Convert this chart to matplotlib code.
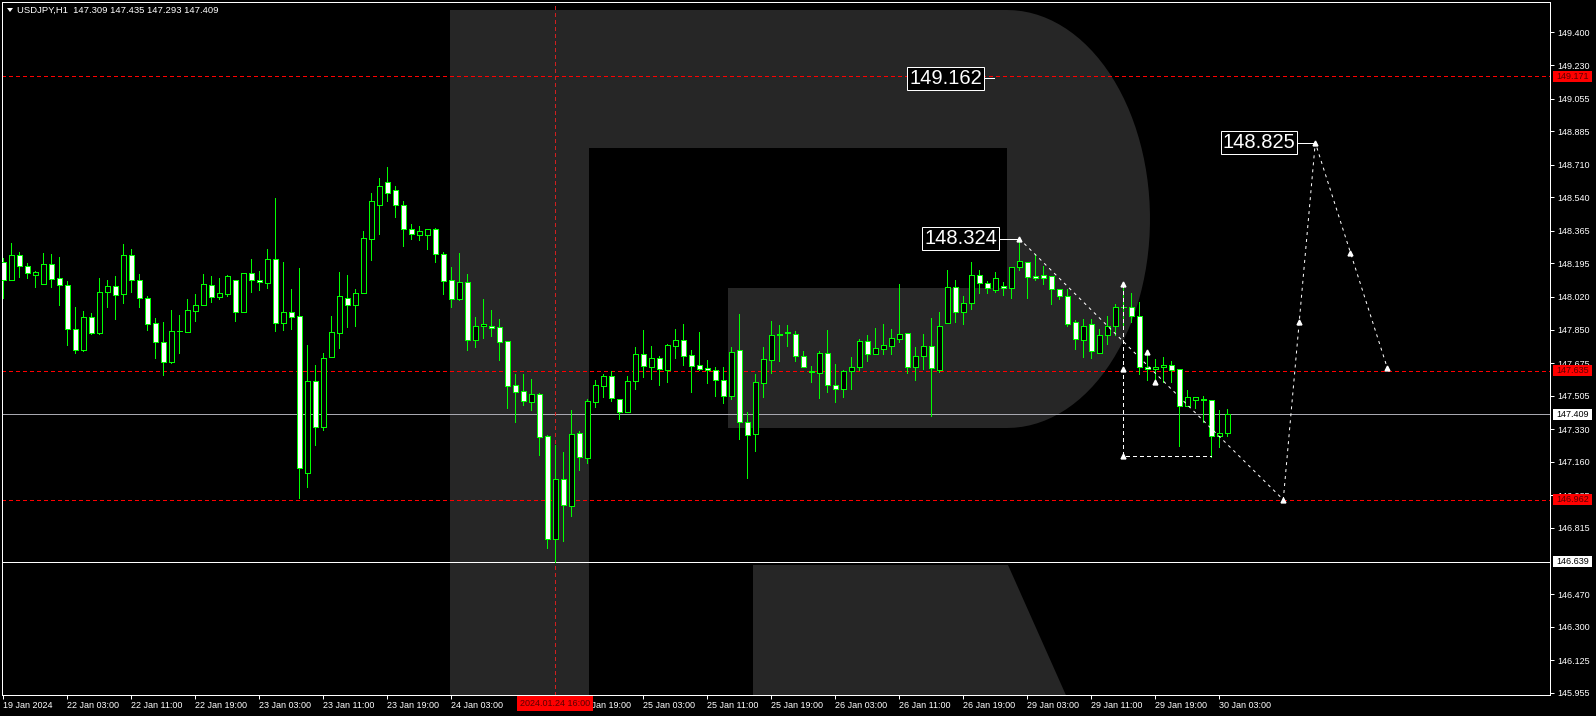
import numpy as np
import matplotlib
matplotlib.use("Agg")
import matplotlib.pyplot as plt
from matplotlib.patches import Rectangle, Polygon
from matplotlib.transforms import Affine2D, blended_transform_factory

# USDJPY H1, one value per bar, 19 Jan 2024 19:00 .. 30 Jan 2024 04:00
opens = [148.200, 148.110, 148.237, 148.184, 148.132, 148.089, 148.190, 148.117, 148.080, 147.851,
         147.741, 147.913, 147.833, 148.044, 148.075, 148.033, 148.237, 148.106, 148.012, 147.882,
         147.783, 147.682, 147.840, 147.838, 147.948, 147.976, 148.080, 148.021, 148.036, 148.111,
         147.943, 148.143, 148.106, 148.094, 148.216, 147.885, 147.939, 147.918, 147.103, 147.579,
         147.339, 147.708, 147.830, 148.017, 147.979, 148.042, 148.323, 148.500, 148.620, 148.580,
         148.500, 148.372, 148.344, 148.344, 148.374, 148.243, 148.106, 148.010, 148.096, 147.797,
         147.870, 147.871, 147.861, 147.788, 147.558, 147.527, 147.473, 147.511, 147.294, 146.758,
         147.068, 146.931, 147.308, 147.181, 147.473, 147.557, 147.605, 147.485, 147.421, 147.584,
         147.720, 147.656, 147.704, 147.640, 147.765, 147.793, 147.715, 147.663, 147.647, 147.637,
         147.589, 147.504, 147.741, 147.368, 147.306, 147.572, 147.692, 147.822, 147.833, 147.829,
         147.714, 147.631, 147.624, 147.725, 147.563, 147.541, 147.634, 147.655, 147.789, 147.723,
         147.749, 147.765, 147.803, 147.830, 147.652, 147.710, 147.762, 147.640, 147.885, 148.070,
         147.939, 147.986, 148.132, 148.091, 148.054, 148.078, 148.065, 148.174, 148.200, 148.127,
         148.132, 148.127, 148.059, 148.023, 147.887, 147.793, 147.877, 147.729, 147.824, 147.866,
         147.965, 147.965, 147.923, 147.656, 147.642, 147.652, 147.663, 147.642, 147.449, 147.480,
         147.490, 147.480, 147.292, 147.309]
highs = [148.221, 148.301, 148.254, 148.198, 148.155, 148.249, 148.244, 148.228, 148.101, 147.965,
         147.946, 147.934, 148.117, 148.106, 148.127, 148.296, 148.270, 148.138, 148.023, 147.908,
         147.887, 147.950, 147.925, 148.009, 148.035, 148.139, 148.129, 148.118, 148.134, 148.111,
         148.143, 148.217, 148.155, 148.270, 148.536, 148.202, 148.061, 148.170, 147.769, 147.664,
         147.727, 147.920, 148.150, 148.134, 148.059, 148.363, 148.560, 148.640, 148.700, 148.600,
         148.520, 148.403, 148.390, 148.374, 148.381, 148.254, 148.176, 148.249, 148.139, 147.915,
         148.009, 147.951, 147.904, 147.788, 147.617, 147.617, 147.591, 147.520, 147.299, 147.247,
         147.210, 147.430, 147.320, 147.487, 147.586, 147.617, 147.633, 147.485, 147.610, 147.758,
         147.847, 147.764, 147.711, 147.772, 147.852, 147.878, 147.743, 147.837, 147.690, 147.652,
         147.654, 147.758, 147.930, 147.419, 147.617, 147.758, 147.894, 147.873, 147.873, 147.841,
         147.737, 147.659, 147.737, 147.847, 147.669, 147.641, 147.708, 147.800, 147.821, 147.857,
         147.878, 147.852, 148.087, 147.830, 147.758, 147.825, 147.910, 147.941, 148.160, 148.108,
         148.024, 148.200, 148.160, 148.101, 148.148, 148.098, 148.174, 148.324, 148.200, 148.244,
         148.181, 148.127, 148.059, 148.063, 147.899, 147.903, 147.903, 147.852, 147.920, 147.981,
         148.085, 148.043, 147.993, 147.717, 147.696, 147.706, 147.685, 147.642, 147.534, 147.496,
         147.503, 147.480, 147.428, 147.435]
lows = [148.016, 148.110, 148.125, 148.120, 148.073, 148.089, 148.073, 147.980, 147.771, 147.725,
        147.736, 147.828, 147.828, 147.969, 147.906, 147.990, 148.047, 147.969, 147.849, 147.703,
        147.611, 147.677, 147.725, 147.838, 147.896, 147.976, 147.993, 148.009, 148.026, 147.896,
        147.943, 148.047, 148.057, 148.068, 147.842, 147.849, 147.852, 146.972, 147.030, 147.249,
        147.327, 147.708, 147.755, 147.864, 147.870, 148.042, 148.212, 148.348, 148.520, 148.438,
        148.287, 148.322, 148.316, 148.270, 148.202, 148.035, 147.967, 148.003, 147.743, 147.758,
        147.805, 147.816, 147.690, 147.440, 147.367, 147.456, 147.430, 147.195, 146.710, 146.639,
        146.748, 146.878, 147.117, 147.153, 147.445, 147.497, 147.478, 147.384, 147.421, 147.539,
        147.602, 147.591, 147.560, 147.576, 147.701, 147.664, 147.524, 147.638, 147.570, 147.503,
        147.466, 147.488, 147.280, 147.075, 147.215, 147.499, 147.624, 147.685, 147.765, 147.687,
        147.655, 147.577, 147.494, 147.525, 147.471, 147.497, 147.541, 147.638, 147.685, 147.723,
        147.723, 147.723, 147.784, 147.625, 147.588, 147.642, 147.400, 147.630, 147.885, 147.891,
        147.877, 147.955, 148.042, 148.038, 148.044, 148.031, 148.016, 148.160, 148.016, 148.108,
        148.085, 147.984, 148.011, 147.868, 147.746, 147.708, 147.703, 147.725, 147.777, 147.824,
        147.873, 147.890, 147.616, 147.586, 147.577, 147.577, 147.577, 147.243, 147.449, 147.438,
        147.369, 147.186, 147.238, 147.293]
closes = [148.110, 148.237, 148.184, 148.143, 148.148, 148.190, 148.115, 148.080, 147.851, 147.741,
          147.913, 147.833, 148.044, 148.075, 148.028, 148.237, 148.106, 148.012, 147.877, 147.783,
          147.678, 147.840, 147.842, 147.950, 147.976, 148.085, 148.021, 148.038, 148.127, 147.943,
          148.143, 148.110, 148.096, 148.216, 147.885, 147.939, 147.917, 147.125, 147.579, 147.339,
          147.704, 147.835, 148.023, 147.976, 148.043, 148.325, 148.520, 148.600, 148.560, 148.500,
          148.372, 148.346, 148.362, 148.374, 148.245, 148.104, 148.010, 148.096, 147.797, 147.871,
          147.877, 147.859, 147.786, 147.557, 147.525, 147.478, 147.511, 147.290, 146.758, 147.068,
          146.936, 147.303, 147.183, 147.475, 147.558, 147.605, 147.494, 147.421, 147.584, 147.720,
          147.661, 147.704, 147.645, 147.767, 147.793, 147.713, 147.661, 147.645, 147.637, 147.588,
          147.504, 147.735, 147.368, 147.302, 147.574, 147.694, 147.824, 147.829, 147.836, 147.713,
          147.655, 147.626, 147.725, 147.561, 147.541, 147.636, 147.657, 147.789, 147.723, 147.751,
          147.767, 147.805, 147.829, 147.652, 147.710, 147.762, 147.647, 147.866, 148.070, 147.939,
          147.986, 148.132, 148.091, 148.065, 148.120, 148.065, 148.174, 148.205, 148.122, 148.117,
          148.117, 148.059, 148.023, 147.880, 147.798, 147.871, 147.736, 147.819, 147.871, 147.965,
          147.966, 147.923, 147.656, 147.642, 147.654, 147.664, 147.640, 147.449, 147.496, 147.496,
          147.480, 147.292, 147.308, 147.409]

symbol = "USDJPY,H1"

time_tick_bars = [0, 8, 16, 24, 32, 40, 48, 56, 72, 80, 88, 96, 104, 112, 120, 128, 136, 144, 152]
time_tick_labels = ["19 Jan 2024", "22 Jan 03:00", "22 Jan 11:00", "22 Jan 19:00", "23 Jan 03:00",
                    "23 Jan 11:00", "23 Jan 19:00", "24 Jan 03:00", "24 Jan 19:00",
                    "25 Jan 03:00", "25 Jan 11:00", "25 Jan 19:00", "26 Jan 03:00", "26 Jan 11:00",
                    "26 Jan 19:00", "29 Jan 03:00", "29 Jan 11:00", "29 Jan 19:00", "30 Jan 03:00"]

price_ticks = [149.400, 149.230, 149.055, 148.885, 148.710, 148.540, 148.365, 148.195, 148.020,
               147.850, 147.675, 147.505, 147.330, 147.160, 146.985, 146.815, 146.470,
               146.300, 146.125, 145.955]

red_levels = [149.171, 147.635, 146.962]
bid_price = closes[-1]
low_line = 146.639
cursor_bar = 69
cursor_label = "2024.01.24 16:00"

# hand drawn forecast
forecast_bars = [127, 160, 164, 173]
forecast_prices = [148.324, 146.962, 148.825, 147.650]
box_bars = [140, 140, 151]
box_prices = [148.085, 147.190, 147.190]
arrow_bars = [127, 160, 164, 173, 162, 168.4, 140, 140, 140, 143, 144]
arrow_prices = [148.324, 146.962, 148.825, 147.650, 147.89, 148.25, 148.085, 147.642, 147.190, 147.734, 147.577]

target_texts = ["149.162", "148.324", "148.825"]
target_prices = [149.162, 148.324, 148.825]
target_box_right = [122.7, 124.6, 161.85]
target_line_end = [123.8, 127, 164]

GREEN = "#00ff00"
RED = "#ff0000"
GREY_LOGO = "#262626"
LW = 0.72  # one pixel

plt.rcParams["font.family"] = ["Liberation Sans", "DejaVu Sans"]

W, H = 1596, 716
fig = plt.figure(figsize=(W / 100, H / 100), dpi=100, facecolor="black")
ax = fig.add_axes([2 / W, 21 / H, 1548 / W, 693 / H])
ax.set_facecolor("black")
ax.set_xlim(-0.16, 193.34)
ax.set_ylim(145.943, 149.559)

# pixel coords with y going down
px = Affine2D().scale(1, -1).translate(0, H)

# watermark "R"
t = np.linspace(-np.pi / 2, np.pi / 2, 60)
arc = list(zip(1007 + 143 * np.cos(t), 219 + 209 * np.sin(t)))
bowl = [(450, 10)] + arc + [(728, 428), (728, 288), (1007, 288), (1007, 148),
                            (589, 148), (589, 720), (450, 720)]
ax.add_patch(Polygon(bowl, closed=True, facecolor=GREY_LOGO, edgecolor="none",
                     transform=px, zorder=0.5))
leg = [(753, 565), (1008, 565), (1077, 720), (753, 720)]
ax.add_patch(Polygon(leg, closed=True, facecolor=GREY_LOGO, edgecolor="none",
                     transform=px, zorder=0.5))

# levels
for p in red_levels:
    ax.axhline(p, color=RED, lw=LW, ls=(0, (3, 3)), zorder=1, antialiased=False)
ax.axhline(bid_price, color="#a8a8b0", lw=LW, zorder=1, antialiased=False)
ax.axhline(low_line, color="white", lw=LW, zorder=1, antialiased=False)
ax.axvline(cursor_bar, color="#d02020", lw=LW, ls=(0, (3, 3)), zorder=1, antialiased=False)

# candles (MT4 scheme: bull = black body, bear = white body)
for i, (o, h, l, c) in enumerate(zip(opens, highs, lows, closes)):
    ax.vlines(i, l, h, color=GREEN, lw=LW, zorder=3, antialiased=False)
    lo, hi = min(o, c), max(o, c)
    if hi - lo < 0.003:
        ax.hlines(o, i - 0.3, i + 0.3, color=GREEN, lw=LW, zorder=4, antialiased=False)
    else:
        ax.add_patch(Rectangle((i - 0.28, lo), 0.56, hi - lo,
                               facecolor="white" if c < o else "black",
                               edgecolor=GREEN, lw=LW, zorder=4, antialiased=False))

# forecast lines
ax.plot(forecast_bars, forecast_prices, color="white", lw=LW, ls=(0, (3, 4)), zorder=5)
ax.plot(box_bars, box_prices, color="white", lw=LW, ls=(0, (3, 3)), zorder=5,
        antialiased=False)
ax.plot(arrow_bars, arrow_prices, ls="none", marker="^", ms=3.5, color="white", zorder=6)

for txt, p, xr, xe in zip(target_texts, target_prices, target_box_right, target_line_end):
    ax.plot([xr, xe], [p, p], color="white", lw=LW, zorder=5, antialiased=False)
    ax.annotate(txt, xy=(xr, p), xytext=(-2, 0), textcoords="offset points",
                ha="right", va="center", color="white", fontsize=14.5, zorder=7,
                bbox=dict(boxstyle="square,pad=0.1", facecolor="black", edgecolor="white", lw=LW))

# axes look
for s in ax.spines.values():
    s.set_color("white")
    s.set_linewidth(LW)
ax.yaxis.tick_right()
ax.set_yticks(price_ticks, [f"{p:.3f}" for p in price_ticks])
ax.tick_params(axis="y", colors="white", length=3, width=LW, pad=2, labelsize=6.5)
ax.set_xticks(time_tick_bars, time_tick_labels)
ax.tick_params(axis="x", colors="white", length=3, width=LW, pad=1.5, labelsize=6.5)
for lab in ax.get_xticklabels():
    lab.set_horizontalalignment("left")

# price labels on the axis
ytrans = blended_transform_factory(Affine2D(), ax.transData)
half = 5.5 / 191.7
axis_boxes = [(red_levels[0], RED, "#5a0000"), (red_levels[1], RED, "#5a0000"),
              (red_levels[2], RED, "#5a0000"), (bid_price, "white", "black"),
              (low_line, "white", "black")]
for p, face, fg in axis_boxes:
    ax.add_patch(Rectangle((1553, p - half), 39, 2 * half, facecolor=face, edgecolor="none",
                           transform=ytrans, clip_on=False, zorder=8))
    ax.text(1572.5, p, f"{p:.3f}", transform=ytrans, ha="center", va="center",
            color=fg, fontsize=6.5, clip_on=False, zorder=9)

# time cursor label
ax.add_patch(Rectangle((517, 696), 76, 15, facecolor=RED, edgecolor="none",
                       transform=px, clip_on=False, zorder=8))
ax.text(555, 703.5, cursor_label, transform=px, ha="center", va="center",
        color="#5a0000", fontsize=6.5, clip_on=False, zorder=9)

# header
ax.add_patch(Polygon([(7, 8), (13, 8), (10, 12)], closed=True, facecolor="white",
                     edgecolor="none", transform=px, clip_on=False, zorder=9))
header = f"{symbol}  {opens[-1]:.3f} {highs[-1]:.3f} {lows[-1]:.3f} {closes[-1]:.3f}"
ax.text(17, 10.5, header, transform=px, ha="left", va="center", color="white",
        fontsize=6.8, clip_on=False, zorder=9)

fig.savefig("out.png", dpi=100, facecolor="black")
